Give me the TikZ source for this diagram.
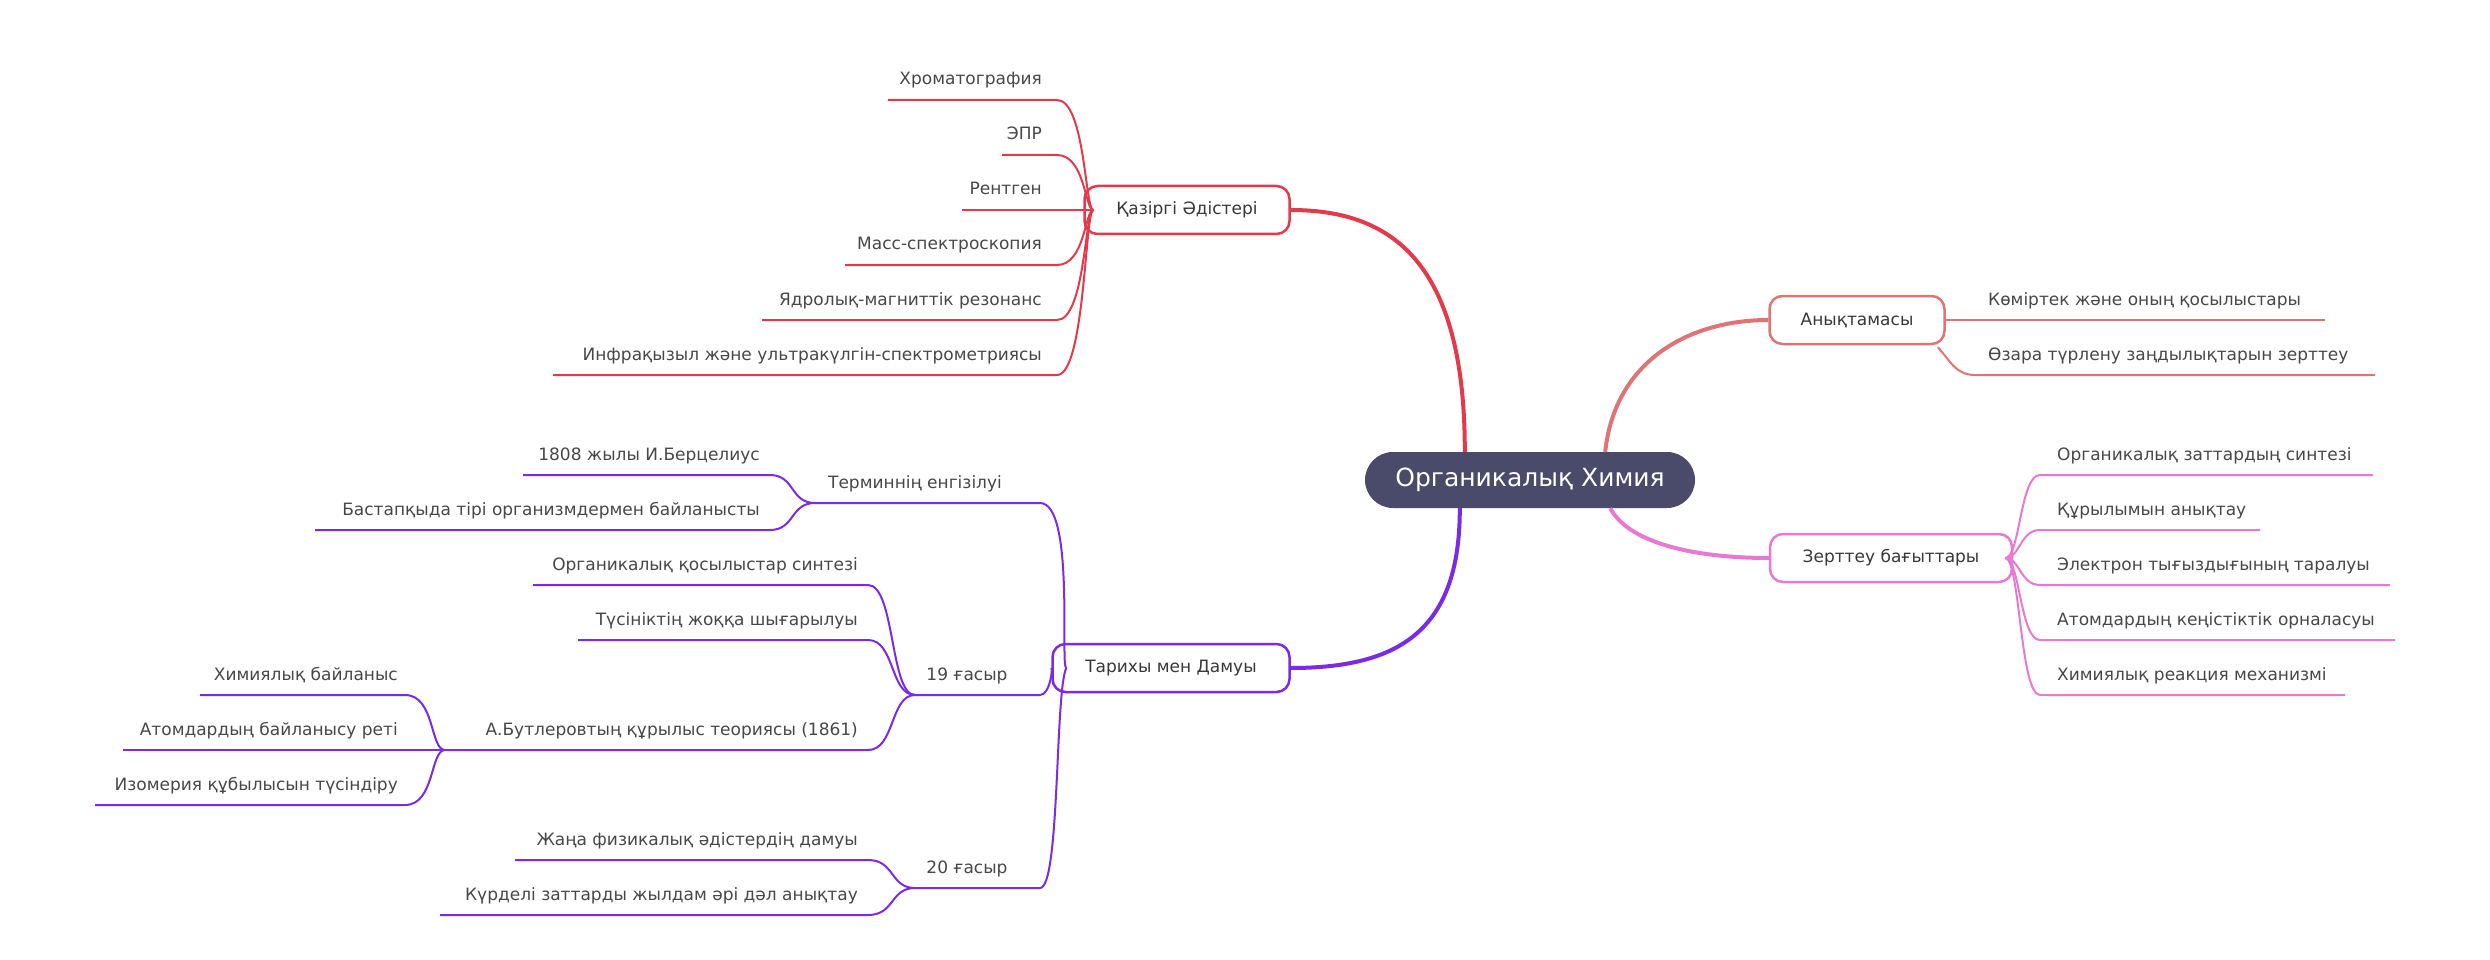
\documentclass[tikz,border=0pt]{standalone}
\usepackage{fontspec}
\setmainfont{DejaVu Sans}
\begin{document}
\begin{tikzpicture}[x=1pt,y=-1pt,
 leaf/.style={font=\fontsize{17}{20}\selectfont,text=black!72,inner sep=0pt},
 box/.style={draw,line width=2.5pt,rounded corners=13pt,fill=white,font=\fontsize{17}{20}\selectfont,text=black!78,minimum height=48pt},
 cr/.style={line width=2pt,draw=cR}, cs/.style={line width=2pt,draw=cS},
 cp/.style={line width=2pt,draw=cP}, cv/.style={line width=2pt,draw=cV}]
\definecolor{cR}{HTML}{E23A4B}\definecolor{cS}{HTML}{E07474}
\definecolor{cP}{HTML}{E879D2}\definecolor{cV}{HTML}{7B2BE6}
\definecolor{cRoot}{HTML}{4A4A6A}
\useasboundingbox (0,0) rectangle (2490,960);
% root
\node[fill=cRoot,rounded corners=28pt,minimum width=330pt,minimum height=56pt,text=white,font=\fontsize{25}{30}\selectfont] (root) at (1530,480) {Органикалық Химия};
% boxes
\node[box,draw=cR,minimum width=205pt] (q) at (1187,210) {Қазіргі Әдістері};
\node[box,draw=cS,minimum width=175pt] (an) at (1857,320) {Анықтамасы};
\node[box,draw=cP,minimum width=242pt] (z) at (1891,558) {Зерттеу бағыттары};
\node[box,draw=cV,minimum width=237pt] (t) at (1171,668) {Тарихы мен Дамуы};
% main connectors
\draw[line width=4pt,cR] (root.north west)++(100,0) coordinate (r1) .. controls (1465,260) and (1390,210) .. (q.east);
\draw[line width=4pt,cS] (root.north east)++(-90,0) coordinate (r2) .. controls (1615,360) and (1690,320) .. (an.west);
\draw[line width=4pt,cP] (root.south east)++(-85,0) coordinate (r3) .. controls (1630,545) and (1700,558) .. (z.west);
\draw[line width=4pt,cV] (root.south west)++(95,0) coordinate (r4) .. controls (1460,630) and (1400,668) .. (t.east);
% Қазіргі leaves
\foreach \n/\xs/\ly/\txt in {1/888/100/Хроматография,2/1002/155/ЭПР,3/962/210/Рентген,4/845/265/Масс-спектроскопия,5/762/320/Ядролық-магниттік резонанс,6/553/375/Инфрақызыл және ультракүлгін-спектрометриясы}{
 \node[leaf,anchor=base east] (q\n) at (1042,\ly-15) {\txt};
 \coordinate (q\n s) at (\xs,\ly); \coordinate (q\n e) at (1057,\ly);
 \draw[cr] (q\n s) -- (q\n e) .. controls (1085,\ly) and (1085,210) .. ([xshift=10pt]q.west);}
% Анықтамасы leaves
\node[leaf,anchor=base west] (a1) at (1988,305) {Көміртек және оның қосылыстары};
\coordinate (a1e) at (2325,320);
\draw[cs] (an.east) -- (a1e);
\node[leaf,anchor=base west] (a2) at (1988,360) {Өзара түрлену заңдылықтарын зерттеу};
\coordinate (a2e) at (2375,375);
\draw[cs] ([xshift=-8pt,yshift=-2pt]an.south east) .. controls (1950,360) and (1955,375) .. (1975,375) -- (a2e);
% Зерттеу leaves
\foreach \n/\xe/\ly/\txt in {1/2373/475/Органикалық заттардың синтезі,2/2260/530/Құрылымын анықтау,3/2390/585/Электрон тығыздығының таралуы,4/2395/640/Атомдардың кеңістіктік орналасуы,5/2345/695/Химиялық реакция механизмі}{
 \node[leaf,anchor=base west] (z\n) at (2057,\ly-15) {\txt};
 \coordinate (z\n s) at (2040,\ly); \coordinate (z\n e) at (\xe,\ly);
 \draw[cp] ([xshift=-8pt]z.east) .. controls (2020,558) and (2020,\ly) .. (z\n s) -- (z\n e);}
% Тарихы sub-nodes
\node[leaf,anchor=base] (h1) at (915,488) {Терминнің енгізілуі};
\coordinate (h1s) at (815,503); \coordinate (h1e) at (1040,503);
\draw[cv] (h1s) -- (h1e) .. controls (1075,503) and (1060,668) .. ([xshift=15pt]t.west);
\node[leaf,anchor=base] (h2) at (967,680) {19 ғасыр};
\coordinate (h2s) at (915,695); \coordinate (h2e) at (1040,695);
\draw[cv] (h2s) -- (h2e) .. controls (1050,695) and (1053,668) .. (t.west);
\node[leaf,anchor=base] (h3) at (967,873) {20 ғасыр};
\coordinate (h3s) at (915,888); \coordinate (h3e) at (1040,888);
\draw[cv] (h3s) -- (h3e) .. controls (1060,888) and (1055,692) .. ([xshift=15pt]t.west);
% Терминнің children
\foreach \n/\xs/\ly/\txt in {1/523/475/1808 жылы И.Берцелиус,2/315/530/Бастапқыда тірі организмдермен байланысты}{
 \node[leaf,anchor=base east] (m\n) at (760,\ly-15) {\txt};
 \coordinate (m\n s) at (\xs,\ly); \coordinate (m\n e) at (770,\ly);
 \draw[cv] (m\n s) -- (m\n e) .. controls (795,\ly) and (790,503) .. (h1s);}
% 19 ғасыр children
\foreach \n/\xs/\ly/\txt in {1/533/585/Органикалық қосылыстар синтезі,2/578/640/Түсініктің жоққа шығарылуы,3/445/750/А.Бутлеровтың құрылыс теориясы (1861)}{
 \node[leaf,anchor=base east] (n\n) at (858,\ly-15) {\txt};
 \coordinate (n\n s) at (\xs,\ly); \coordinate (n\n e) at (868,\ly);
 \draw[cv] (n\n s) -- (n\n e) .. controls (895,\ly) and (890,695) .. (h2s);}
% Бутлеров children
\foreach \n/\xs/\ly/\txt in {1/200/695/Химиялық байланыс,2/123/750/Атомдардың байланысу реті,3/95/805/Изомерия құбылысын түсіндіру}{
 \node[leaf,anchor=base east] (b\n) at (398,\ly-15) {\txt};
 \coordinate (b\n s) at (\xs,\ly); \coordinate (b\n e) at (405,\ly);
 \draw[cv] (b\n s) -- (b\n e) .. controls (435,\ly) and (430,750) .. (n3s);}
% 20 ғасыр children
\foreach \n/\xs/\ly/\txt in {1/515/860/Жаңа физикалық әдістердің дамуы,2/440/915/Күрделі заттарды жылдам әрі дәл анықтау}{
 \node[leaf,anchor=base east] (p\n) at (858,\ly-15) {\txt};
 \coordinate (p\n s) at (\xs,\ly); \coordinate (p\n e) at (868,\ly);
 \draw[cv] (p\n s) -- (p\n e) .. controls (895,\ly) and (890,888) .. (h3s);}
\end{tikzpicture}
\end{document}
